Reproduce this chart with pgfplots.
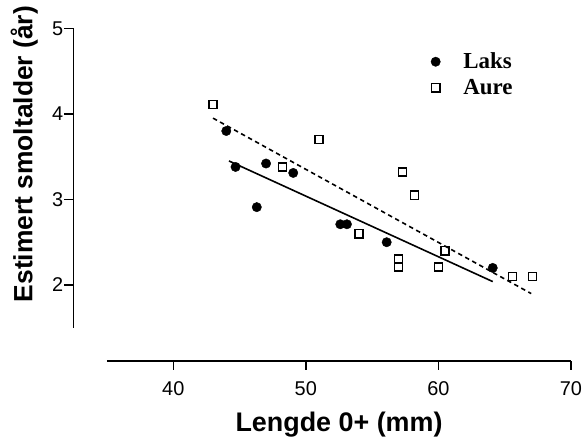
\documentclass[border=0pt]{standalone}
\usepackage{pgfplots}
\pgfplotsset{compat=1.18}
\usepackage{fontspec}
\setmainfont{Liberation Sans}
\newfontfamily\serifb{Liberation Serif}

\begin{document}
\begin{tikzpicture}
  \begin{axis}[
    scale only axis, width=497.7bp, height=332.7bp,
    xmin=32.46, xmax=70, ymin=1.112, ymax=5,
    axis x line*=bottom, axis y line*=left,
    axis line style={draw=none},
    clip=false,
    xtick={40,50,60,70}, ytick={2,3,4,5},
    tick align=outside, major tick length=9bp,
    tick style={black, line width=1.5bp},
    /pgf/number format/assume math mode=true,
    tick label style={font=\fontsize{20}{24}\selectfont, inner sep=1bp},
    xticklabel style={yshift=-10bp},
    xlabel={\bfseries Lengde 0+ (mm)},
    ylabel={\bfseries Estimert smoltalder (år)},
    xlabel style={font=\fontsize{27}{30}\selectfont, at={(axis description cs:0.534,-0.192)}, anchor=center},
    ylabel style={font=\fontsize{26.5}{30}\selectfont, at={(axis description cs:-0.0985,0.622)}, anchor=center},
    legend cell align=left,
    legend style={draw=none, fill=none, font=\serifb\bfseries\fontsize{23}{26}\selectfont,
      at={(axis cs:59.2,4.46)}, anchor=west, row sep=5bp,
      /tikz/every odd column/.append style={column sep=21bp}},
  ]
    % Laks
    \addplot[only marks, mark=*, mark size=4.7bp, black] coordinates {
      (44.0,3.80) (44.7,3.38) (46.3,2.91) (47.0,3.42) (49.05,3.31)
      (52.6,2.71) (53.1,2.71) (56.1,2.50) (64.1,2.20)};
    % Aure
    \addplot[only marks, mark=square, mark size=4.1bp, black, line width=1.5bp] coordinates {
      (43.0,4.11) (48.25,3.38) (51.0,3.70) (54.0,2.60) (57.0,2.30) (57.0,2.21)
      (57.3,3.32) (58.2,3.05) (60.0,2.21) (60.5,2.40) (65.6,2.10) (67.1,2.10)};
    \legend{Laks, Aure}
    % regresjonslinjer
    \addplot[forget plot, black, line width=1.6bp] coordinates {(44.2,3.45) (64.1,2.04)};
    \addplot[forget plot, black, line width=1.6bp, dash pattern=on 4.5bp off 3.5bp] coordinates {(43.0,3.95) (67.0,1.90)};
    % forskjøvne akser
    \draw[line width=1.5bp] (axis cs:35,1.112) -- (axis cs:70,1.112);
    \draw[line width=1.5bp] (axis cs:32.46,1.5) -- (axis cs:32.46,5);
    % hvit marg som i originalen
    \path (axis cs:26.93,0.1767) rectangle (axis cs:71.06,5.331);
  \end{axis}
\end{tikzpicture}
\end{document}
